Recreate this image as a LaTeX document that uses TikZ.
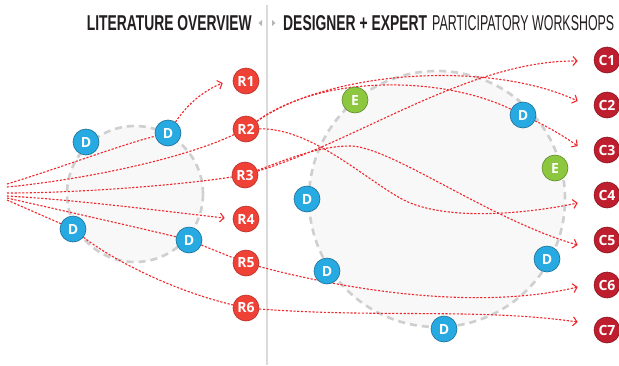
\documentclass[tikz,border=0pt]{standalone}
\usepackage{fontspec}
\setmainfont{Liberation Sans}
\newfontfamily\nodefont{Open Sans}
\usetikzlibrary{arrows.meta,calc}
\pgfdeclarelayer{bg}
\pgfdeclarelayer{lines}
\pgfsetlayers{bg,lines,main}
\definecolor{dblue}{HTML}{27AAE1}
\definecolor{dblueo}{HTML}{1C6E96}
\definecolor{egreen}{HTML}{8DC63F}
\definecolor{egreeno}{HTML}{5E8C2A}
\definecolor{rred}{HTML}{EF4136}
\definecolor{rredo}{HTML}{B5302A}
\definecolor{cred}{HTML}{BE1E2D}
\definecolor{credo}{HTML}{8A1520}
\definecolor{linered}{HTML}{F0282D}
\definecolor{ringgray}{HTML}{CFCFCF}
\definecolor{ringfill}{HTML}{F8F8F8}
\definecolor{titlegray}{HTML}{231F20}
\definecolor{sepgray}{HTML}{DADADA}
\definecolor{triGray}{HTML}{B5B5B5}
\begin{document}
\begin{tikzpicture}[x=1pt,y=-1pt,
  bub/.style={circle,minimum size=26pt,inner sep=0pt,line width=0.6pt,text=white,
    font=\nodefont\bfseries\fontsize{14}{14}\selectfont},
  dnode/.style={bub,fill=dblue,draw=dblueo},
  enode/.style={bub,fill=egreen,draw=egreeno},
  rnode/.style={bub,fill=rred,draw=rredo},
  cnode/.style={bub,fill=cred,draw=credo},
  conn/.style={draw=linered,line width=1.1pt,dash pattern=on 2.2pt off 1.6pt},
  arr/.style={conn,-{Straight Barb[length=4pt,width=9pt]}},
  ring/.style={draw=ringgray,fill=ringfill,line width=2.6pt,dash pattern=on 7pt off 5pt},
  ttl/.style={inner sep=0pt,text=titlegray},
  tri/.style={fill=triGray,draw=none}]
\useasboundingbox (0,0) rectangle (619,365);

% background, separator and rings
\begin{pgfonlayer}{bg}
\fill[white] (0,0) rectangle (619,365);
\draw[sepgray,line width=1.6pt] (267,5) -- (267,365);
\draw[ring] (135,194) circle[radius=68pt];
\draw[ring] (437,199) circle[radius=128pt];
\end{pgfonlayer}

% titles
\node[ttl,anchor=south east] (tleft) at (252,31) {\resizebox{165pt}{15pt}{\bfseries LITERATURE OVERVIEW}};
\node[ttl,anchor=south west] (tright1) at (283,31) {\resizebox{144pt}{15pt}{\bfseries DESIGNER + EXPERT}};
\node[ttl,anchor=south west] (tright2) at (432,31) {\resizebox{182pt}{15pt}{PARTICIPATORY WORKSHOPS}};
\fill[tri] (258.5,23) -- (262,20) -- (262,26) -- cycle;
\fill[tri] (275.5,23) -- (272,20) -- (272,26) -- cycle;

% left nodes
\node[dnode] (D1) at (86,142) {D};
\node[dnode] (D2) at (168,133) {D};
\node[dnode] (D3) at (73,229) {D};
\node[dnode] (D4) at (189,240) {D};
% R nodes
\node[rnode] (R1) at (246,81) {R1};
\node[rnode] (R2) at (246,129) {R2};
\node[rnode] (R3) at (245,175) {R3};
\node[rnode] (R4) at (246,219) {R4};
\node[rnode] (R5) at (246,263) {R5};
\node[rnode] (R6) at (246,308) {R6};
% right ring nodes
\node[enode] (E1) at (355,100) {E};
\node[dnode] (D5) at (523,115) {D};
\node[enode] (E2) at (555,168) {E};
\node[dnode] (D6) at (307,199) {D};
\node[dnode] (D7) at (327,271) {D};
\node[dnode] (D8) at (547,259) {D};
\node[dnode] (D9) at (444,329) {D};
% C nodes
\node[cnode] (C1) at (607,60) {C1};
\node[cnode] (C2) at (607,105) {C2};
\node[cnode] (C3) at (607,150) {C3};
\node[cnode] (C4) at (607,195) {C4};
\node[cnode] (C5) at (607,240) {C5};
\node[cnode] (C6) at (607,285) {C6};
\node[cnode] (C7) at (607,330) {C7};

% fan origin
\coordinate (o1) at (7,184);
\coordinate (o2) at (7,187);
\coordinate (o3) at (7,193);
\coordinate (o4) at (7,196);
\coordinate (o5) at (7,198);
\coordinate (o6) at (7,200);

\begin{pgfonlayer}{lines}
% left part
\draw[conn] (o1) .. controls (60,168) and (120,145) .. (D2);
\draw[arr] (D2) .. controls (185,108) and (200,92) .. ($(R1.west)+(-10,2)$);
\draw[conn] (o2) .. controls (80,180) and (180,160) .. (R2);
\draw[conn] (o3) .. controls (80,193) and (180,185) .. (R3);
\draw[arr] (o4) .. controls (80,200) and (170,212) .. ($(R4.west)+(-8,-1)$);
\draw[conn] (o5) .. controls (60,210) and (140,228) .. (D4);
\draw[conn] (D4) -- (R5);
\draw[conn] (o6) -- (D3);
\draw[conn] (D3) .. controls (110,258) and (170,290) .. (R6);
% right part
\draw[arr] (R3) .. controls (360,140) and (470,60) .. ($(C1.west)+(-16,1)$);
\draw[arr] (R2) .. controls (330,70) and (490,60) .. ($(C2.west)+(-16,-4)$);
\draw[conn] (R2) .. controls (320,75) and (440,75) .. (D5);
\draw[arr] (D5) .. controls (550,128) and (565,137) .. ($(C3.west)+(-16,-4)$);
\draw[arr] (R2) .. controls (310,128) and (360,175) .. (400,198)
  .. controls (440,221) and (520,215) .. ($(C4.west)+(-16,8)$);
\draw[arr] (R3) .. controls (290,158) and (320,146) .. (350,146)
  .. controls (390,146) and (490,220) .. ($(C5.west)+(-16,5)$);
\draw[arr] (R5) .. controls (370,296) and (490,308) .. ($(C6.west)+(-16,2)$);
\draw[arr] (R6) .. controls (380,318) and (480,308) .. ($(C7.west)+(-16,-8)$);
\end{pgfonlayer}
\end{tikzpicture}
\end{document}
